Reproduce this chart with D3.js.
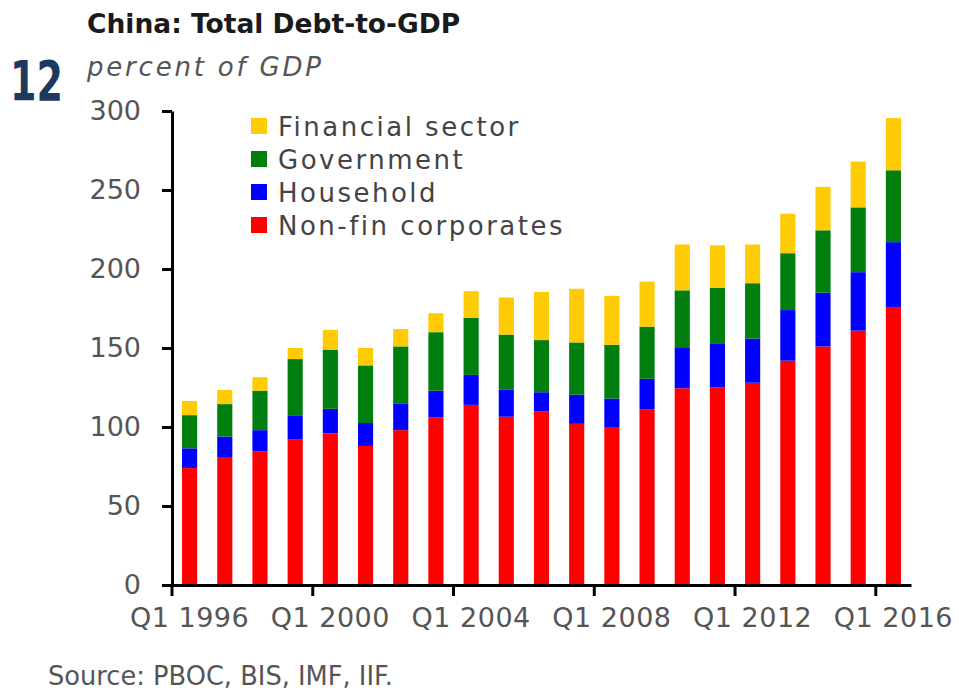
<!DOCTYPE html>
<html>
<head>
<meta charset="utf-8">
<script src="https://cdn.jsdelivr.net/npm/d3@7"></script>
<style>
  body { margin: 0; background: #fff; }
  svg { display: block; font-family: "DejaVu Sans", sans-serif; }
</style>
</head>
<body>
<svg width="959" height="691"></svg>
<script>
//Chart data
var years = [1996, 1997, 1998, 1999, 2000, 2001, 2002, 2003, 2004, 2005, 2006,
  2007, 2008, 2009, 2010, 2011, 2012, 2013, 2014, 2015, 2016];
var nonFinCorporates = [74, 81, 84.5, 92, 96, 88, 98, 106, 114, 106.5, 110,
  102, 100, 111, 124.5, 125, 128, 142, 151, 161, 176];
var household = [12.5, 13, 13.5, 15, 15.5, 14.5, 17, 17, 19, 17, 12,
  18.5, 18, 19.5, 26, 28, 28, 32, 34, 37, 41];
var government = [21, 20.5, 25, 36, 37.5, 36.5, 36, 37, 36, 35, 33,
  33, 34, 33, 36, 35, 35, 36, 39.5, 41, 45.5];
var financialSector = [9, 9, 8.5, 7, 12.5, 11, 11, 12, 17, 23.5, 30.5,
  34, 31, 28.5, 29, 27, 24.5, 25, 27.5, 29, 33];
var yTicks = [0, 50, 100, 150, 200, 250, 300];
var xTickYears = [1996, 2000, 2004, 2008, 2012, 2016];

//Series names, bottom to top, and their colours
var keys = ["Non-fin corporates", "Household", "Government", "Financial sector"];
var colors = ["#ff0000", "#0000ff", "#007f0e", "#ffcb05"];

var rows = years.map(function (y, i) {
  return {
    year: y,
    "Non-fin corporates": nonFinCorporates[i],
    "Household": household[i],
    "Government": government[i],
    "Financial sector": financialSector[i],
  };
});

var svg = d3.select("svg");
var margin = { top: 111, bottom: 106, left: 172, right: 48 };
var width = 959, height = 691;

var xScale = d3
  .scaleBand()
  .domain(years)
  .range([margin.left, width - margin.right])
  .paddingInner(0.57)
  .paddingOuter(0.285);

var yScale = d3
  .scaleLinear()
  .domain([0, 300])
  .range([height - margin.bottom, margin.top]);

var colorScale = d3.scaleOrdinal().domain(keys).range(colors);

var stacked = d3.stack().keys(keys)(rows);

//Stacked bars
svg
  .append("g")
  .selectAll("g")
  .data(stacked)
  .join("g")
  .attr("fill", function (d) {
    return colorScale(d.key);
  })
  .selectAll("rect")
  .data(function (d) {
    return d;
  })
  .join("rect")
  .attr("x", function (d) {
    return xScale(d.data.year);
  })
  .attr("width", xScale.bandwidth())
  .attr("y", function (d) {
    return yScale(d[1]);
  })
  .attr("height", function (d) {
    return yScale(d[0]) - yScale(d[1]);
  });

//Y axis
var yAxisG = svg
  .append("g")
  .attr("transform", `translate(${margin.left},0)`)
  .call(
    d3.axisLeft(yScale).tickValues(yTicks).tickSize(10).tickPadding(21).tickSizeOuter(0)
  );

//X axis, ticks sit on the boundaries between years
var xAxisG = svg
  .append("g")
  .attr("transform", `translate(0,${height - margin.bottom})`)
  .call(
    d3
      .axisBottom(xScale)
      .tickValues(xTickYears)
      .tickFormat(function (d) {
        return "Q1 " + d;
      })
      .tickSize(11)
      .tickPadding(10)
      .tickSizeOuter(0)
  );
xAxisG.selectAll(".tick line").attr("transform", `translate(${-xScale.step() / 2},0)`);

[yAxisG, xAxisG].forEach(function (g) {
  g.select(".domain").attr("stroke", "#000").attr("stroke-width", 3);
  g.selectAll(".tick line").attr("stroke", "#000").attr("stroke-width", 3);
  g.selectAll(".tick text")
    .attr("fill", "#555")
    .style("font-family", "DejaVu Sans")
    .style("font-size", "27px");
});
yAxisG.selectAll(".tick text").attr("dy", "0.32em");
xAxisG.selectAll(".tick text").attr("dy", "0.78em").style("letter-spacing", "0.5px");

//Legend, top row is the top series
var legendKeys = keys.slice().reverse();
var legend = svg.append("g").attr("transform", "translate(251,126)");

legend
  .selectAll(".legend-rect")
  .data(legendKeys)
  .join("rect")
  .attr("class", "legend-rect")
  .attr("x", 0)
  .attr("y", function (d, i) {
    return i * 33 - 8;
  })
  .attr("width", 16)
  .attr("height", 16)
  .attr("fill", function (d) {
    return colorScale(d);
  });

legend
  .selectAll(".legend-label")
  .data(legendKeys)
  .join("text")
  .attr("class", "legend-label")
  .attr("x", 27)
  .attr("y", function (d, i) {
    return i * 33 + 10;
  })
  .attr("fill", "#444")
  .style("font-size", "26px")
  .style("letter-spacing", "2.5px")
  .text(function (d) {
    return d;
  });

//Titles and source
svg
  .append("text")
  .attr("x", 87)
  .attr("y", 33)
  .attr("fill", "#1a1a1a")
  .style("font-size", "26.5px")
  .style("font-weight", "bold")
  .text("China: Total Debt-to-GDP");

svg
  .append("text")
  .attr("x", 10)
  .attr("y", 100)
  .attr("fill", "#1b3a5e")
  .attr("textLength", 53)
  .attr("lengthAdjust", "spacingAndGlyphs")
  .style("font-size", "55px")
  .style("font-weight", "bold")
  .text("12");

svg
  .append("text")
  .attr("x", 87)
  .attr("y", 76)
  .attr("fill", "#555")
  .style("font-size", "26px")
  .style("font-style", "italic")
  .style("letter-spacing", "2.8px")
  .text("percent of GDP");

svg
  .append("text")
  .attr("x", 48)
  .attr("y", 685)
  .attr("fill", "#555")
  .style("font-size", "25.7px")
  .text("Source: PBOC, BIS, IMF, IIF.");
</script>
</body>
</html>
